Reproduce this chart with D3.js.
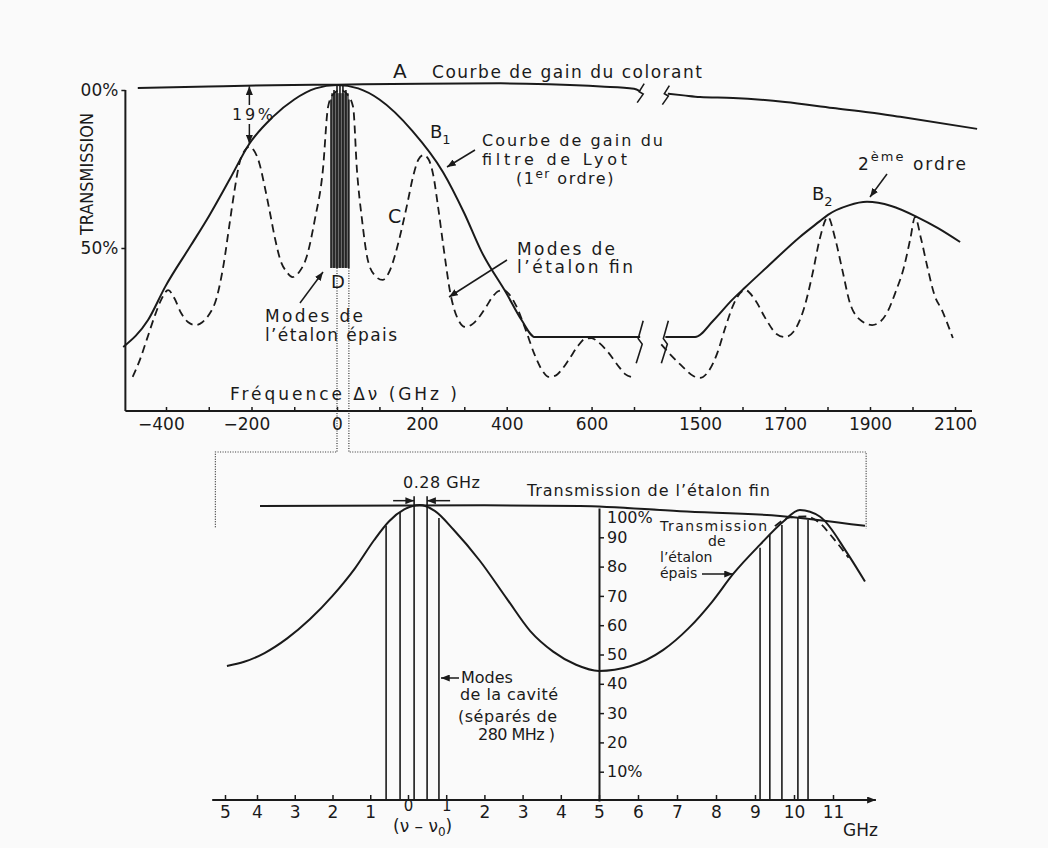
<!DOCTYPE html>
<html>
<head>
<meta charset="utf-8">
<title>Filtre de Lyot et étalons</title>
<script src="https://cdnjs.cloudflare.com/ajax/libs/d3/7.8.5/d3.min.js"></script>
<style>
  body { margin: 0; background: #fafafa; }
  svg text { font-family: "DejaVu Sans", sans-serif; fill: #1a1a1a; }
</style>
</head>
<body>
<script>
var width = 1048
var height = 848

// ---------- top panel: frequency (GHz) / transmission (%)
var freqTicks = [-400,-300,-200,-100,0,100,200,300,400,500,600,700,1500,1600,1700,1800,1900,2000,2100]
var freqLabels = [-400,-200,0,200,400,600,1500,1700,1900,2100]
var transTicks = [50,100]
var transLabels = ["50%","00%"]

// dye gain curve (split by the axis break)
var gainF1 = [-466,-300,-150,0,200,386,500,622,700,775]
var gainT1 = [100.6,101.1,101.5,101.7,102.0,102.1,101.8,101.1,100.4,99.6]
var gainF2 = [1110,1300,1500,1578,1700,1813,1900,1971,2152]
var gainT2 = [98.8,98.3,97.8,97.5,96.2,94.3,92.9,91.5,87.7]

// Lyot filter, 1st order then 2nd order
var lyotF1 = [-500,-442,-402,-341,-300,-250,-205,-150,-100,-50,0,50,100,178,250,300,340,400,435,467,775]
var lyotT1 = [18.7,27.2,37.7,51,60,72,83,91.5,97,100.5,101.6,100.5,97,87,74,61,49,35.5,27.2,21.8,21.8]
var lyotF2 = [1080,1440,1531,1575,1606,1658,1735,1782,1801,1850,1893,1950,2011,2060,2112]
var lyotT2 = [21.8,21.8,27,33.5,37.5,44,53.5,58.5,60.5,63.5,64.6,63.3,59.8,56.3,51.9]

// thin etalon modes (dashed)
var finF1 = [-478,-460,-445,-425,-410,-395,-380,-365,-348,-331,-315,-300,-282,-265,-252,-240,-228,-215,-205,-195,-182,-170,-158,-145,-132,-118,-104,-88,-71,-52,-33,-21,-10,8,25,38,47,59,71,88,107,125,142,155,166,180,192,204,216,227,237,251,267,285,303,320,337,352,369,381,393,405,423,445,465,485,499,515,529,548,568,585,600,615,639,665,680,693]
var finT1 = [9.2,15,21,29,34,36.7,34,29.5,26.5,25.6,26.5,28.8,34,45,57,68,77,81,82,81,77,70,62,53,46,42.5,40.8,42.5,47.2,58.9,74.7,94.6,98.5,100,98.5,94.6,74.7,58.9,47.2,41.5,39.9,43,50.3,57.5,64.2,73,78,79.4,78,73,64.2,50.3,35.8,27.5,25,26,28.5,31.5,35,36.4,36.7,35.5,31.5,24,16.5,11,9.2,9.6,11.4,15,19,21.3,21.5,20.3,17,12.3,10,9.2]
var finF2 = [1030,1150,1294,1420,1500,1520,1540,1560,1580,1606,1630,1655,1680,1700,1720,1745,1765,1782,1801,1818,1835,1853,1881,1905,1925,1940,1960,1980,1995,2006,2020,2035,2052,2069,2095]
var finT2 = [19.5,16,12.3,9.5,8.9,11,16.5,25,32.5,36.7,33.5,27.5,22.8,21.8,23.5,31,42,53,59.8,53,43,32.5,26.8,25.6,26.8,29.5,36,44,53,59.8,53,44,35,30.4,21.5]

// thick etalon modes (D)
var epaisF = [-14,-7,0,7,14,21,28]
var epaisT = [97,100,101.3,101.6,101.3,100,97]
var epaisBase = 43.7

// axis break positions (GHz)
var breakF = [775,1080]

// ---------- bottom panel: (nu - nu0) in GHz / transmission (%)
var nuTicks = [-5,-4,-3,-2,-1,0,1,2,3,4,5,6,7,8,9,10,11]
var nuLabels = ["5","4","3","2","1","0","1","2","3","4","5","6","7","8","9","10","11"]
var pctTicks = [10,20,30,40,50,60,70,80,90,100]
var pctLabels = ["10%","20","30","40","50","60","70","8o","90","100%"]

// thin etalon transmission (nearly flat)
var fineNu = [-3.92,2,4.5,7.08,9.64,11.82]
var fineT = [100.7,100.9,100.7,98.9,97.3,93.9]
// thick etalon transmission
var thickNu = [-4.94,-4.4,-3.8,-3.2,-2.6,-2.0,-1.4,-0.9,-0.5,-0.1,0.31,0.7,1.2,1.88,2.59,3.2,3.8,4.4,5,5.8,6.64,7.3,7.9,8.44,9.13,9.72,10.15,10.67,11.36,11.82]
var thickT = [46.1,47.5,50.5,55.5,62,70,79.5,89,95.5,99.5,101,99,92.5,82,69,58,51,46.5,44.4,46,51.5,59,68,77.5,87.5,95.3,99.3,97,84.7,74.9]
// product of both (dashed)
var prodNu = [9.51,9.9,10.3,10.62,11.0,11.4]
var prodT = [93.8,96.8,97.1,95.3,89.8,83.0]
// cavity modes, two groups
var cavNu1 = [-0.58,-0.21,0.16,0.5,0.81]
var cavTop1 = [93.9,98.6,100.7,100,96.6]
var cavNu2 = [9.13,9.38,9.69,10.1,10.36]
var cavTop2 = [86.4,90.8,94.2,96.6,95.9]

// ---------- scales
var xTop = d3.scaleLinear().domain([-400,0,700,1500,2100]).range([166,337,634,700,955])
var yTop = d3.scaleLinear().domain([0,100]).range([406,90])
var xBot = d3.scaleLinear().domain([-5,-4,0,5,11,12]).range([225,257,408,599,833,872])
var yBot = d3.scaleLinear().domain([0,100]).range([801,508])

var ink = "#1a1a1a"

var svg = d3.select("body").append("svg")
  .attr("width", width)
  .attr("height", height)

svg.append("rect").attr("width", width).attr("height", height).attr("fill", "#fafafa")

svg.append("defs").append("marker")
  .attr("id", "arrow")
  .attr("viewBox", "0 0 10 8")
  .attr("refX", 10).attr("refY", 4)
  .attr("markerWidth", 9).attr("markerHeight", 7)
  .attr("markerUnits", "userSpaceOnUse")
  .attr("orient", "auto")
  .append("path").attr("d", "M0,0 L10,4 L0,8 Z").attr("fill", ink)

function curve(xs, ys, xs_, ys_, dashed) {
  var line = d3.line().x(d => xs_(d[0])).y(d => ys_(d[1])).curve(d3.curveMonotoneX)
  return svg.append("path")
    .datum(d3.zip(xs, ys))
    .attr("d", line)
    .attr("fill", "none")
    .attr("stroke", ink)
    .attr("stroke-width", dashed ? 1.8 : 2)
    .attr("stroke-dasharray", dashed ? "8,5" : null)
}

function arrow(x1, y1, x2, y2) {
  svg.append("line")
    .attr("x1", x1).attr("y1", y1).attr("x2", x2).attr("y2", y2)
    .attr("stroke", ink).attr("stroke-width", 1.5)
    .attr("marker-end", "url(#arrow)")
}

function label(str, x, y, size, len) {
  var t = svg.append("text").attr("x", x).attr("y", y)
    .attr("font-size", size || 17).text(str)
  if (len) t.attr("textLength", len).attr("lengthAdjust", "spacing")
  return t
}

function zig(x, y1, y2) {
  var h = y2 - y1
  svg.append("path")
    .attr("d", "M" + (x+4) + "," + y1 + " L" + (x-1) + "," + (y1+h*0.42) +
      " L" + (x+3) + "," + (y1+h*0.55) + " L" + (x-3) + "," + y2)
    .attr("fill", "none").attr("stroke", ink).attr("stroke-width", 1.6)
}

// ---------- top panel
// thick etalon modes block
svg.append("rect")
  .attr("x", xTop(d3.min(epaisF))).attr("width", xTop(d3.max(epaisF)) - xTop(d3.min(epaisF)))
  .attr("y", yTop(99)).attr("height", yTop(epaisBase) - yTop(99))
  .attr("fill", "#6a6a6a")
svg.selectAll(".epais").data(d3.zip(epaisF, epaisT)).enter().append("line")
  .attr("x1", d => xTop(d[0])).attr("x2", d => xTop(d[0]))
  .attr("y1", yTop(epaisBase)).attr("y2", d => yTop(d[1]))
  .attr("stroke", ink).attr("stroke-width", 1.6)

curve(gainF1, gainT1, xTop, yTop, false)
curve(gainF2, gainT2, xTop, yTop, false)
curve(lyotF1, lyotT1, xTop, yTop, false)
curve(lyotF2, lyotT2, xTop, yTop, false)
curve(finF1, finT1, xTop, yTop, true)
curve(finF2, finT2, xTop, yTop, true)

// break marks
breakF.forEach(function(f, i) {
  zig(xTop(f), yTop(102) + i*2, yTop(96) + i*2)
  zig(xTop(f) - 1, yTop(27), yTop(13.5))
})

// x axis (top)
var xAxisTop = d3.axisBottom(xTop)
  .tickValues(freqTicks)
  .tickSizeInner(-4).tickSizeOuter(0).tickPadding(7)
  .tickFormat(d => freqLabels.indexOf(d) >= 0 ? String(d).replace("-", "\u2212") : "")
var gx = svg.append("g").attr("transform", "translate(0,411)").call(xAxisTop)
  .attr("font-size", 17).attr("font-family", "DejaVu Sans").attr("color", ink)
gx.select(".domain").remove()
gx.selectAll(".tick line").attr("stroke-width", 1.5)
gx.selectAll(".tick text").filter(d => d < 0).attr("dx", "-0.3em")
svg.append("line").attr("x1", xTop(-495)).attr("x2", xTop(2140)).attr("y1", 411).attr("y2", 411)
  .attr("stroke", ink).attr("stroke-width", 2)

// y axis (top)
var yAxisTop = d3.axisLeft(yTop).tickValues(transTicks).tickSize(4).tickPadding(3)
  .tickFormat((d, i) => transLabels[i])
var gy = svg.append("g").attr("transform", "translate(" + xTop(-495) + ",0)").call(yAxisTop)
  .attr("font-size", 17).attr("font-family", "DejaVu Sans").attr("color", ink)
gy.select(".domain").remove()
gy.selectAll(".tick line").attr("stroke-width", 1.5)
svg.append("line").attr("x1", xTop(-495)).attr("x2", xTop(-495)).attr("y1", yTop(100)).attr("y2", 411)
  .attr("stroke", ink).attr("stroke-width", 2)

svg.append("text")
  .attr("transform", "translate(93,174) rotate(-90)")
  .attr("text-anchor", "middle").attr("font-size", 17)
  .attr("textLength", 122).attr("lengthAdjust", "spacingAndGlyphs")
  .text("TRANSMISSION")

// dotted connectors to the zoom below
var dotted = d3.line()
svg.append("path")
  .attr("d", dotted([[xTop(0), yTop(epaisBase)], [xTop(0), 452], [xBot(-5.3), 452], [xBot(-5.3), yBot(93)]]))
  .attr("fill", "none").attr("stroke", "#333").attr("stroke-width", 1.2).attr("stroke-dasharray", "1,1.5")
svg.append("path")
  .attr("d", dotted([[xTop(28), yTop(epaisBase)], [xTop(28), 452], [xBot(11.85), 452], [xBot(11.85), yBot(93)]]))
  .attr("fill", "none").attr("stroke", "#333").attr("stroke-width", 1.2).attr("stroke-dasharray", "1,1.5")

// annotations (top)
label("A", 393, 78, 20)
label("Courbe de gain du colorant", 432, 78, 17, 270)
label("19%", 232, 120, 16, 41)
arrow(xTop(-205), 105, xTop(-205), yTop(101.2))
arrow(xTop(-205), 124, xTop(-205), yTop(83))
var b1 = label("B", 430, 138, 18)
b1.append("tspan").attr("dy", 6).attr("font-size", 13).text("1")
label("Courbe de gain du", 482, 146, 16, 181)
label("filtre de Lyot", 482, 165, 16, 145)
var ord1 = label("(1", 516, 184, 16).attr("letter-spacing", 1.5)
ord1.append("tspan").attr("dy", -6).attr("font-size", 12).text("er")
ord1.append("tspan").attr("dy", 6).text(" ordre)")
arrow(475, 150, 447, 167)
label("C", 388, 223, 19)
label("Modes de", 517, 255, 17, 98)
label("l\u2019étalon fin", 517, 273, 17, 116)
arrow(507, 260, 449, 297)
var ord2 = label("2", 858, 170, 17).attr("letter-spacing", 2)
ord2.append("tspan").attr("dy", -9).attr("font-size", 13).text("ème")
ord2.append("tspan").attr("dy", 9).text(" ordre")
arrow(887, 174, 870, 197)
var b2 = label("B", 812, 200, 18)
b2.append("tspan").attr("dy", 6).attr("font-size", 13).text("2")
label("Modes de", 265, 322, 17, 98)
label("l\u2019étalon épais", 265, 341, 17, 132)
arrow(300, 303, 323, 272)
label("D", 331, 288, 18)
label("Fréquence \u0394\u03bd (GHz )", 230, 400, 17, 227)

// ---------- bottom panel
curve(fineNu, fineT, xBot, yBot, false)
curve(thickNu, thickT, xBot, yBot, false)
curve(prodNu, prodT, xBot, yBot, true)

svg.selectAll(".cav1").data(d3.zip(cavNu1, cavTop1)).enter().append("line")
  .attr("x1", d => xBot(d[0])).attr("x2", d => xBot(d[0]))
  .attr("y1", yBot(0)).attr("y2", d => yBot(d[1]))
  .attr("stroke", ink).attr("stroke-width", 1.6)
svg.selectAll(".cav2").data(d3.zip(cavNu2, cavTop2)).enter().append("line")
  .attr("x1", d => xBot(d[0])).attr("x2", d => xBot(d[0]))
  .attr("y1", yBot(0)).attr("y2", d => yBot(d[1]))
  .attr("stroke", ink).attr("stroke-width", 1.6)

// 0.28 GHz spacing marker
var m1 = xBot(cavNu1[2]), m2 = xBot(cavNu1[3])
svg.append("line").attr("x1", m1).attr("x2", m1).attr("y1", yBot(cavTop1[2])).attr("y2", yBot(104))
  .attr("stroke", ink).attr("stroke-width", 1.6)
svg.append("line").attr("x1", m2).attr("x2", m2).attr("y1", yBot(cavTop1[3])).attr("y2", yBot(104))
  .attr("stroke", ink).attr("stroke-width", 1.6)
arrow(m1 - 21, yBot(102.5), m1, yBot(102.5))
arrow(m2 + 23, yBot(102.5), m2, yBot(102.5))
label("0.28 GHz", 403, 488, 16, 77)

// x axis (bottom)
var xAxisBot = d3.axisBottom(xBot)
  .tickValues(nuTicks)
  .tickSizeInner(-5).tickSizeOuter(0).tickPadding(6)
  .tickFormat((d, i) => nuLabels[i])
var gxb = svg.append("g").attr("transform", "translate(0,800)").call(xAxisBot)
  .attr("font-size", 17).attr("font-family", "DejaVu Sans").attr("color", ink)
gxb.select(".domain").remove()
gxb.selectAll(".tick line").attr("stroke-width", 1.5)
// the 0 and 1 labels sit a little higher, above the (nu - nu0) caption
gxb.selectAll(".tick text").filter(d => d === 0 || d === 1).attr("y", 0).attr("font-size", 15)
svg.append("line").attr("x1", xBot(-5.4)).attr("x2", xBot(12.1)).attr("y1", 800).attr("y2", 800)
  .attr("stroke", ink).attr("stroke-width", 2).attr("marker-end", "url(#arrow)")

// y axis (bottom)
var yAxisBot = d3.axisRight(yBot).tickValues(pctTicks).tickSizeInner(5).tickSizeOuter(0).tickPadding(3)
  .tickFormat((d, i) => pctLabels[i])
var gyb = svg.append("g").attr("transform", "translate(" + xBot(5) + ",0)").call(yAxisBot)
  .attr("font-size", 16).attr("font-family", "DejaVu Sans").attr("color", ink)
gyb.select(".domain").attr("stroke-width", 2)
gyb.selectAll(".tick line").attr("stroke-width", 1.5)
gyb.selectAll(".tick").filter(d => d === 100).select("line").remove()
gyb.selectAll(".tick text").filter(d => d === 100).attr("dy", "0.9em")

// annotations (bottom)
label("Transmission de l\u2019étalon fin", 527, 496, 16, 243)
label("Transmission", 660, 531, 14, 107)
label("de", 708, 546, 14)
label("l\u2019étalon", 660, 562, 14)
label("épais", 660, 578, 14)
arrow(702, 574, 733, 574)
label("Modes", 461, 683, 16)
arrow(459, 678, 441, 678)
label("de la cavité", 460, 700, 16, 98)
label("(séparés de", 458, 722, 16, 99)
label("280 MHz )", 478, 740, 16, 77)
var nu = label("(\u03bd \u2013 \u03bd", 393, 832, 17)
nu.append("tspan").attr("dy", 4).attr("font-size", 12).text("0")
nu.append("tspan").attr("dy", -4).text(")")
label("GHz", 843, 836, 17)
</script>
</body>
</html>
